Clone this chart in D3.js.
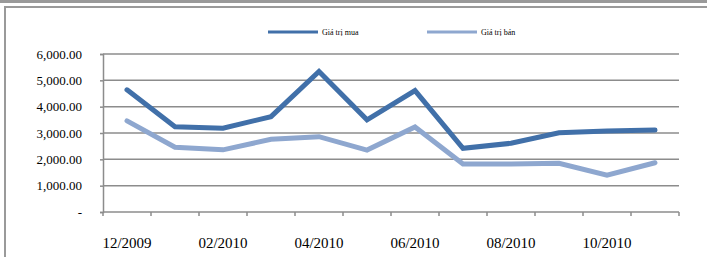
<!DOCTYPE html>
<html>
<head>
<meta charset="utf-8">
<script src="https://cdn.jsdelivr.net/npm/d3@7"></script>
<style>
  body { margin: 0; background: #fff; }
  svg { display: block; font-family: "Liberation Serif", "Times New Roman", serif; }
</style>
</head>
<body>
<div id="chart"></div>
<script>
const width = 707;
const height = 257;

// months on the x axis (labels shown every other month)
const months = ["12/2009", "01/2010", "02/2010", "03/2010", "04/2010", "05/2010",
                "06/2010", "07/2010", "08/2010", "09/2010", "10/2010", "11/2010"];
const shownLabels = ["12/2009", "02/2010", "04/2010", "06/2010", "08/2010", "10/2010"];

const buyValues  = [4640, 3240, 3180, 3620, 5340, 3500, 4610, 2420, 2610, 3010, 3080, 3110];
const sellValues = [3460, 2460, 2360, 2760, 2860, 2350, 3230, 1820, 1820, 1850, 1400, 1870];

const seriesNames = ["Giá trị mua", "Giá trị bán"];
const seriesColors = ["#4170a9", "#8ea7cf"];
const yTicks = [0, 1000, 2000, 3000, 4000, 5000, 6000];

const margin = { left: 103, right: 28, top: 54, bottom: 45 };

const svg = d3.select("#chart")
    .append("svg")
    .attr("width", width)
    .attr("height", height);

// frame lines around the chart
svg.append("rect").attr("x", 0).attr("y", 0).attr("width", width).attr("height", 3).attr("fill", "#9a9a9a");
svg.append("rect").attr("x", 4).attr("y", 6).attr("width", width - 4).attr("height", 2).attr("fill", "#9a9a9a");
svg.append("rect").attr("x", 4).attr("y", 6).attr("width", 2).attr("height", height - 6).attr("fill", "#9a9a9a");

const x = d3.scaleBand()
    .domain(months)
    .range([margin.left, width - margin.right]);

const y = d3.scaleLinear()
    .domain([0, 6000])
    .range([height - margin.bottom, margin.top]);

// gridlines
svg.append("g")
    .selectAll("line")
    .data(yTicks.slice(1))
    .enter().append("line")
    .attr("x1", margin.left)
    .attr("x2", width - margin.right)
    .attr("y1", d => y(d))
    .attr("y2", d => y(d))
    .attr("stroke", "#8c8c8c")
    .attr("stroke-width", 1.5);

// y axis
const yAxis = svg.append("g")
    .attr("transform", `translate(${margin.left},0)`)
    .call(d3.axisLeft(y)
        .tickValues(yTicks)
        .tickSize(3)
        .tickPadding(18)
        .tickFormat(d => d === 0 ? "-" : d3.format(",.2f")(d)));
yAxis.select(".domain").attr("stroke", "#8c8c8c").attr("stroke-width", 1.5);
yAxis.selectAll(".tick line").attr("stroke", "#8c8c8c").attr("stroke-width", 1.5);
yAxis.selectAll("text")
    .attr("font-family", "Liberation Serif, serif")
    .attr("font-size", 13)
    .attr("fill", "#000");

// x axis: ticks at band boundaries
const boundaries = months.map(m => x(m)).concat([x.range()[1]]);
const xAxisG = svg.append("g");
xAxisG.append("line")
    .attr("x1", margin.left)
    .attr("x2", width - margin.right)
    .attr("y1", y(0))
    .attr("y2", y(0))
    .attr("stroke", "#8c8c8c")
    .attr("stroke-width", 1.5);
xAxisG.selectAll("line.tk")
    .data(boundaries)
    .enter().append("line")
    .attr("class", "tk")
    .attr("x1", d => d)
    .attr("x2", d => d)
    .attr("y1", y(0))
    .attr("y2", y(0) + 4)
    .attr("stroke", "#8c8c8c")
    .attr("stroke-width", 1.5);
xAxisG.selectAll("text")
    .data(shownLabels)
    .enter().append("text")
    .attr("x", d => x(d) + x.bandwidth() / 2)
    .attr("y", 248)
    .attr("text-anchor", "middle")
    .attr("font-size", 15)
    .attr("fill", "#000")
    .text(d => d);

// lines
const line = d3.line()
    .x((d, i) => x(months[i]) + x.bandwidth() / 2)
    .y(d => y(d));

[buyValues, sellValues].forEach((vals, i) => {
    svg.append("path")
        .datum(vals)
        .attr("d", line)
        .attr("fill", "none")
        .attr("stroke", seriesColors[i])
        .attr("stroke-width", 5)
        .attr("stroke-linejoin", "miter")
        .attr("stroke-linecap", "round");
});

// legend
const legendX = [268, 427];
seriesNames.forEach((name, i) => {
    svg.append("line")
        .attr("x1", legendX[i])
        .attr("x2", legendX[i] + 50)
        .attr("y1", 32)
        .attr("y2", 32)
        .attr("stroke", seriesColors[i])
        .attr("stroke-width", 3);
    svg.append("text")
        .attr("x", legendX[i] + 54)
        .attr("y", 35)
        .attr("font-size", 8)
        .attr("fill", "#000")
        .text(name);
});
</script>
</body>
</html>
